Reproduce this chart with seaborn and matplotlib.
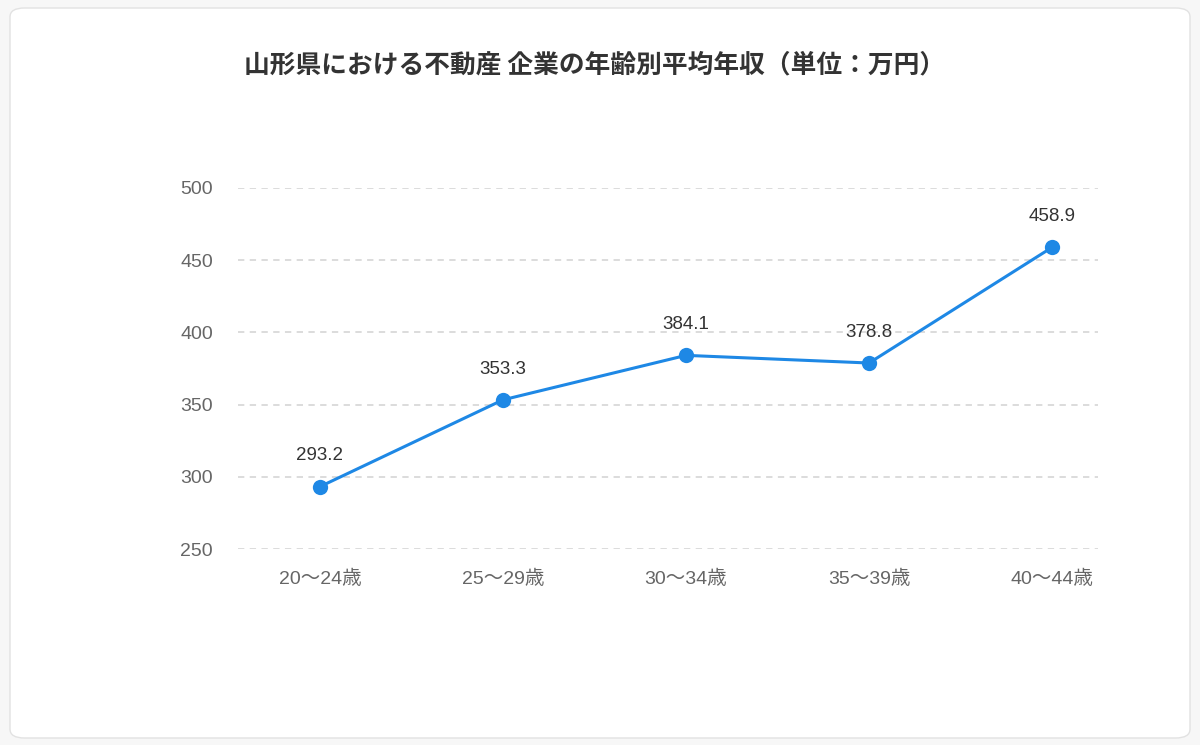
import matplotlib
matplotlib.use('Agg')
from matplotlib import pyplot as plt
from matplotlib.patches import FancyBboxPatch
import pandas as pd
import seaborn as sns

ages = ['20～24歳', '25～29歳', '30～34歳', '35～39歳', '40～44歳']
income = [293.2, 353.3, 384.1, 378.8, 458.9]
yticks = [250, 300, 350, 400, 450, 500]

df = pd.DataFrame({'x': range(len(ages)), 'income': income})

sns.set_style('white')
plt.rcParams['font.family'] = ['Liberation Sans', 'Noto Sans CJK JP', 'DejaVu Sans']

fig = plt.figure(figsize=(12, 7.45), dpi=100)
fig.patch.set_facecolor('#f7f7f7')

# card background
card = FancyBboxPatch((10 / 1200, 7 / 745), 1180 / 1200, 730 / 745,
                      boxstyle='round,pad=0,rounding_size=0.012',
                      transform=fig.transFigure, facecolor='white',
                      edgecolor='#e2e2e2', linewidth=1, zorder=-10)
fig.patches.append(card)

ax = fig.add_axes([238 / 1200, 1 - 549 / 745, 860 / 1200, 361 / 745])
ax.set_facecolor('none')

sns.lineplot(data=df, x='x', y='income', ax=ax, color='#1E88E5', linewidth=2.2,
             marker='o', markersize=11, markeredgewidth=0, zorder=3)

for i, v in enumerate(income):
    ax.annotate(f'{v:.1f}', (i, v), xytext=(0, 16), textcoords='offset points',
                ha='center', va='bottom', fontsize=13.5, color='#333333')

ax.set_xlim(-0.448, 4.251)
ax.set_ylim(250, 500)
ax.set_yticks(yticks)
ax.set_xticks(range(len(ages)))
ax.set_xticklabels(ages)
ax.tick_params(axis='both', length=0, labelsize=14, labelcolor='#666666')
ax.tick_params(axis='y', pad=18)
ax.tick_params(axis='x', pad=15)
ax.yaxis.grid(True, linestyle=(0, (3.5, 3)), color='#d9d9d9', linewidth=1.3)
ax.xaxis.grid(False)
ax.set_xlabel('')
ax.set_ylabel('')
for s in ax.spines.values():
    s.set_visible(False)

fig.text(595 / 1200, 1 - 65 / 745, '山形県における不動産 企業の年齢別平均年収（単位：万円）',
         family=['Noto Sans CJK JP', 'DejaVu Sans'],
         ha='center', va='center', fontsize=18.5, fontweight='bold', color='#333333')

fig.savefig('out.png', dpi=100, facecolor=fig.get_facecolor())
